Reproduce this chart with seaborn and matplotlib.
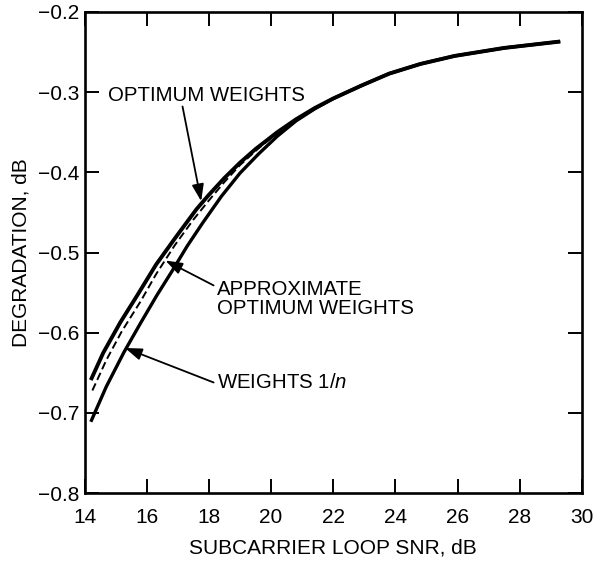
import matplotlib
matplotlib.use("Agg")
import matplotlib.pyplot as plt
import seaborn as sns
import pandas as pd

# ---- data ----
snr_opt = [14.2, 14.6, 15.15, 15.7, 16.3, 16.95, 17.6, 18.0, 18.5, 19.0, 19.5, 20.2,
           20.8, 21.4, 22.0, 22.9, 23.8, 24.8, 25.9, 27.5, 29.3]
deg_opt = [-0.659, -0.625, -0.587, -0.553, -0.515, -0.480, -0.446, -0.428, -0.407, -0.388,
           -0.371, -0.350, -0.334, -0.320, -0.308, -0.292, -0.277, -0.265, -0.255, -0.245, -0.237]

snr_approx = [14.25, 14.7, 15.2, 15.8, 16.3, 16.9, 17.5, 18.0, 18.5, 19.0, 19.6, 20.2, 20.8, 21.2]
deg_approx = [-0.672, -0.634, -0.598, -0.561, -0.527, -0.491, -0.459, -0.435, -0.412, -0.391,
              -0.370, -0.351, -0.335, -0.325]

snr_1n = [14.2, 14.7, 15.27, 15.8, 16.33, 16.8, 17.3, 17.8, 18.4, 19.0, 19.6, 20.2, 20.8,
          21.4, 22.0, 22.9, 23.8, 24.8, 25.9, 27.5, 29.3]
deg_1n = [-0.711, -0.667, -0.624, -0.588, -0.553, -0.524, -0.492, -0.463, -0.430, -0.401,
          -0.377, -0.355, -0.336, -0.321, -0.308, -0.292, -0.277, -0.265, -0.255, -0.245, -0.237]

x_ticks = [14, 16, 18, 20, 22, 24, 26, 28, 30]
y_ticks = [-0.8, -0.7, -0.6, -0.5, -0.4, -0.3, -0.2]

label_opt = "OPTIMUM WEIGHTS"
label_approx = "APPROXIMATE\nOPTIMUM WEIGHTS"
label_1n = "WEIGHTS 1/$n$"
x_label = "SUBCARRIER LOOP SNR, dB"
y_label = "DEGRADATION, dB"

sns.set_theme(style="ticks")
plt.rcParams["font.family"] = ["Liberation Sans", "DejaVu Sans"]
plt.rcParams["mathtext.fontset"] = "custom"
plt.rcParams["mathtext.it"] = "Liberation Sans:italic"
plt.rcParams["mathtext.rm"] = "Liberation Sans"
plt.rcParams["text.color"] = "black"
plt.rcParams["axes.labelcolor"] = "black"

fig = plt.figure(figsize=(6.0, 5.63), dpi=100)
ax = fig.add_axes([0.141, 0.124, 0.829, 0.855])

df_opt = pd.DataFrame({"snr": snr_opt, "deg": deg_opt})
df_app = pd.DataFrame({"snr": snr_approx, "deg": deg_approx})
df_1n = pd.DataFrame({"snr": snr_1n, "deg": deg_1n})

sns.lineplot(data=df_opt, x="snr", y="deg", ax=ax, color="black", lw=2.8,
             solid_capstyle="butt", solid_joinstyle="round")
sns.lineplot(data=df_1n, x="snr", y="deg", ax=ax, color="black", lw=2.4,
             solid_capstyle="butt", solid_joinstyle="round")
sns.lineplot(data=df_app, x="snr", y="deg", ax=ax, color="black", lw=1.4,
             linestyle=(0, (4, 2)))

ax.set_xlim(14, 30)
ax.set_ylim(-0.8, -0.2)
ax.set_xticks(x_ticks)
ax.set_yticks(y_ticks)
ax.set_xticklabels([str(t) for t in x_ticks])
ax.set_yticklabels([f"\u2212{abs(t):.1f}" for t in y_ticks])

for s in ax.spines.values():
    s.set_visible(True)
    s.set_linewidth(1.9)
    s.set_color("black")

ax.tick_params(axis="both", which="major", direction="in", length=10, width=1.4,
               top=True, right=True, labelsize=15, colors="black")
ax.tick_params(axis="x", pad=11)
ax.tick_params(axis="y", pad=4)

ax.set_xlabel(x_label, fontsize=15, labelpad=8, color="black")
ax.set_ylabel(y_label, fontsize=15, labelpad=5, color="black")

fs = 14.7
arrow_kw = dict(arrowstyle="-|>,head_length=0.85,head_width=0.3", color="black", lw=1.3,
                shrinkA=0, shrinkB=0)

ax.text(14.75, -0.304, label_opt, fontsize=fs, ha="left", va="center", color="black")
ax.annotate("", xy=(17.75, -0.436), xytext=(17.15, -0.318), arrowprops=arrow_kw)

ax.text(18.25, -0.558, label_approx, fontsize=fs, ha="left", va="center",
        linespacing=0.95, color="black")
ax.annotate("", xy=(16.6, -0.510), xytext=(18.15, -0.541), arrowprops=arrow_kw)

ax.text(18.25, -0.662, label_1n, fontsize=fs, ha="left", va="center", color="black")
ax.annotate("", xy=(15.3, -0.619), xytext=(18.15, -0.662), arrowprops=arrow_kw)

fig.savefig("out.png", dpi=100)
